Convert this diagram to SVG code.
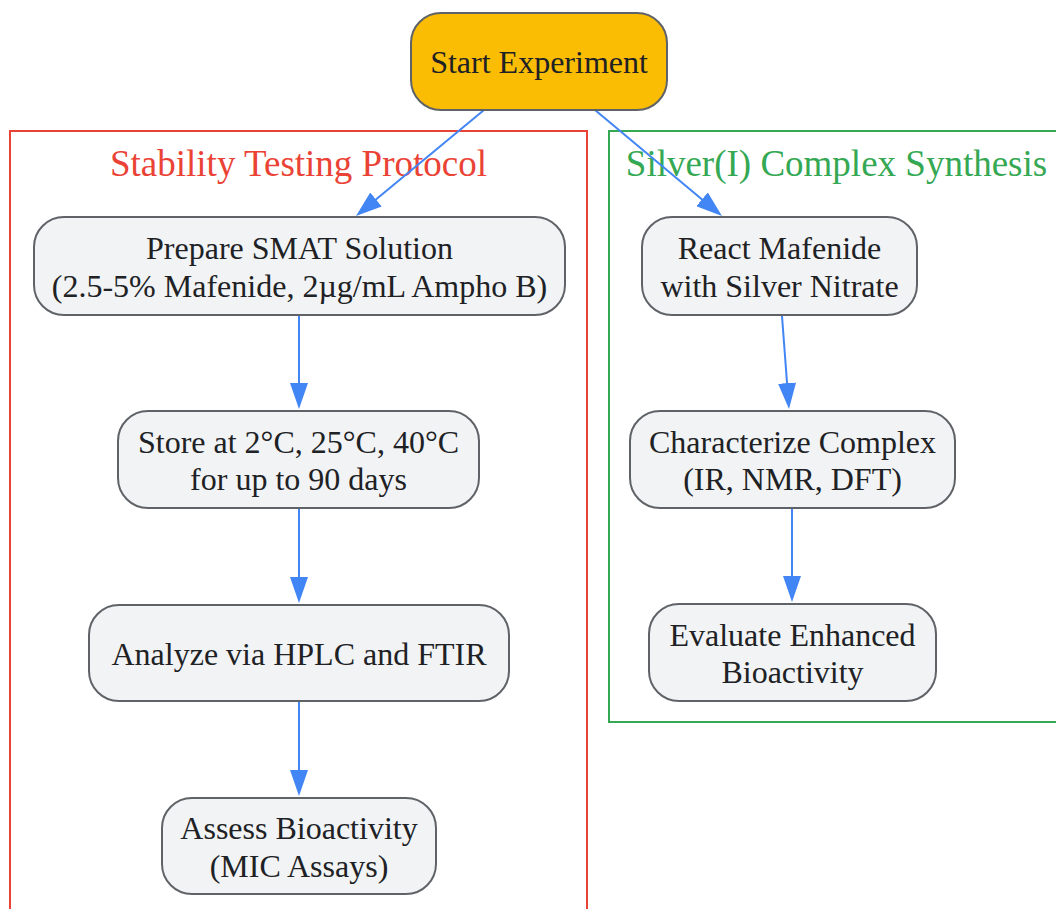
<svg xmlns="http://www.w3.org/2000/svg" width="1056" height="909" viewBox="0 0 1056 909">
<defs>
<style>
.node rect{fill:#F1F3F4;stroke:#5F6368;stroke-width:2}
#start rect{fill:#FBBC04}
.node text{font-family:"Liberation Serif","Times New Roman",serif;font-size:32px;fill:#202124;text-anchor:middle}
.cluster rect{fill:none;stroke-width:2}
.cluster text{font-family:"Liberation Serif","Times New Roman",serif;font-size:37px;text-anchor:middle}
#cl-stability rect{stroke:#EA4335}
#cl-stability text{fill:#EA4335}
#cl-silver rect{stroke:#34A853}
#cl-silver text{fill:#34A853}
.edges line{stroke:#4285F4;stroke-width:2;fill:none;marker-end:url(#arrow)}
</style>
<marker id="arrow" markerUnits="userSpaceOnUse" markerWidth="26" markerHeight="18" refX="4" refY="9" orient="auto" viewBox="0 0 26 18">
<path d="M0,0 L26,9 L0,18 Z" fill="#4285F4"/>
</marker>
</defs>
<rect width="1056" height="909" fill="#FFFFFF"/>
<g id="cl-stability" class="cluster">
<rect x="10" y="131" width="577" height="800"/>
<text x="298.5" y="176">Stability Testing Protocol</text>
</g>
<g id="cl-silver" class="cluster">
<rect x="609" y="131" width="460" height="591"/>
<text x="836.5" y="176">Silver(I) Complex Synthesis</text>
</g>
<g class="edges">
<line x1="484" y1="110" x2="372.9" y2="202"/>
<line x1="595" y1="110" x2="705.1" y2="201.9"/>
<line x1="299" y1="316" x2="299" y2="387"/>
<line x1="299" y1="509" x2="299" y2="581"/>
<line x1="299" y1="702" x2="299" y2="774"/>
<line x1="782" y1="316" x2="787.35" y2="387.1"/>
<line x1="792" y1="509" x2="792" y2="580"/>
</g>
<g id="start" class="node">
<rect x="411" y="13" width="256" height="97" rx="30" ry="30"/>
<text x="539" y="73">Start Experiment</text>
</g>
<g id="prepare" class="node">
<rect x="34" y="217" width="531" height="98" rx="30" ry="30"/>
<text x="299.5" y="259">Prepare SMAT Solution</text>
<text x="299.5" y="296.5">(2.5-5% Mafenide, 2µg/mL Ampho B)</text>
</g>
<g id="store" class="node">
<rect x="118" y="411" width="361" height="97" rx="30" ry="30"/>
<text x="298.5" y="452.5">Store at 2°C, 25°C, 40°C</text>
<text x="298.5" y="490">for up to 90 days</text>
</g>
<g id="analyze" class="node">
<rect x="89" y="605" width="420" height="96" rx="30" ry="30"/>
<text x="299" y="665">Analyze via HPLC and FTIR</text>
</g>
<g id="assess" class="node">
<rect x="162" y="798" width="274" height="96" rx="30" ry="30"/>
<text x="299" y="839">Assess Bioactivity</text>
<text x="299" y="876.5">(MIC Assays)</text>
</g>
<g id="react" class="node">
<rect x="642" y="217" width="275" height="98" rx="30" ry="30"/>
<text x="779.5" y="259">React Mafenide</text>
<text x="779.5" y="296.5">with Silver Nitrate</text>
</g>
<g id="characterize" class="node">
<rect x="630" y="411" width="325" height="97" rx="30" ry="30"/>
<text x="792.5" y="452.5">Characterize Complex</text>
<text x="792.5" y="490">(IR, NMR, DFT)</text>
</g>
<g id="evaluate" class="node">
<rect x="649" y="604" width="287" height="97" rx="30" ry="30"/>
<text x="792.5" y="645.5">Evaluate Enhanced</text>
<text x="792.5" y="683">Bioactivity</text>
</g>
</svg>
